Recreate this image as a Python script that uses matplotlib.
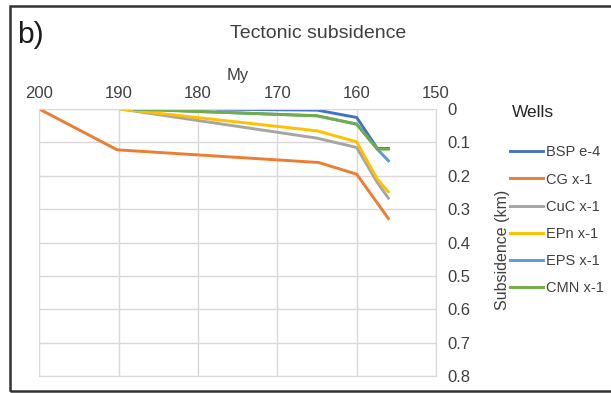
import matplotlib.pyplot as plt
from matplotlib.patches import Rectangle

plt.rcParams['font.family'] = ['Liberation Sans', 'DejaVu Sans']

# Tectonic subsidence per well (age in My, subsidence in km)
wells = ['BSP e-4', 'CG x-1', 'CuC x-1', 'EPn x-1', 'EPS x-1', 'CMN x-1']
colors = ['#4472C4', '#ED7D31', '#A5A5A5', '#FFC000', '#5B9BD5', '#70AD47']

bsp_age = [177.5, 165, 160, 157.4, 156]
bsp_sub = [0.0, 0.003, 0.025, 0.118, 0.118]

cg_age = [200, 190.2, 164.8, 160, 156]
cg_sub = [0.0, 0.122, 0.16, 0.195, 0.328]

cuc_age = [189.7, 165, 160, 157.4, 156]
cuc_sub = [0.0, 0.087, 0.115, 0.22, 0.267]

epn_age = [189.7, 165, 160, 157.4, 156]
epn_sub = [0.0, 0.065, 0.098, 0.21, 0.248]

eps_age = [188, 165, 160, 157.4, 156]
eps_sub = [0.0, 0.02, 0.045, 0.12, 0.155]

cmn_age = [188, 165, 160, 157.4, 156]
cmn_sub = [0.0, 0.02, 0.045, 0.12, 0.12]

ages = [bsp_age, cg_age, cuc_age, epn_age, eps_age, cmn_age]
subs = [bsp_sub, cg_sub, cuc_sub, epn_sub, eps_sub, cmn_sub]

x_ticks = [200, 190, 180, 170, 160, 150]
y_ticks = [0, 0.1, 0.2, 0.3, 0.4, 0.5, 0.6, 0.7, 0.8]

text_col = '#404040'
grid_col = '#D9D9D9'

fig = plt.figure(figsize=(6.11, 3.93), dpi=100)
ax = fig.add_axes([0.0646, 0.0433, 0.649, 0.679])

for name, col, a, s in zip(wells, colors, ages, subs):
    ax.plot(a, s, color=col, lw=2.1, label=name, solid_joinstyle='round')

ax.set_xlim(200, 150)
ax.set_ylim(0.8, 0)
ax.set_xticks(x_ticks)
ax.set_yticks(y_ticks)
ax.set_yticklabels(['0' if v == 0 else f'{v:.1f}' for v in y_ticks])
ax.xaxis.tick_top()
ax.yaxis.tick_right()
ax.tick_params(length=0, labelsize=12, colors=text_col)
ax.tick_params(axis='x', pad=5.5)
ax.tick_params(axis='y', pad=8.5)
ax.grid(True, color=grid_col, lw=1)
for sp in ax.spines.values():
    sp.set_color(grid_col)

ax.set_xlabel('My', fontsize=12, color=text_col)
ax.xaxis.set_label_position('top')
ax.xaxis.set_label_coords(0.5, 1.11)
ax.set_ylabel('Subsidence (km)', fontsize=11.5, color=text_col)
ax.yaxis.set_label_position('right')
ax.yaxis.set_label_coords(1.149, 0.472)

leg = fig.legend(loc='upper left', bbox_to_anchor=(0.8347, 0.63), frameon=False,
                 fontsize=10.5, borderpad=0, borderaxespad=0,
                 handlelength=2.26, handletextpad=0.2, labelspacing=0.9)
for t in leg.get_texts():
    t.set_color(text_col)
fig.text(0.838, 0.7125, 'Wells', ha='left', va='center', fontsize=12.5, color='#262626')

fig.text(0.521, 0.915, 'Tectonic subsidence', ha='center', va='center',
         fontsize=14, color=text_col)
fig.text(0.028, 0.911, 'b)', ha='left', va='center', fontsize=21.5, color='#1a1a1a')

# dark frame around the panel
fig.patches.append(Rectangle((0.016, 0.005), 1.2, 0.98, transform=fig.transFigure,
                             fill=False, edgecolor='#333333', lw=1.8))

fig.savefig('out.png', dpi=100)
